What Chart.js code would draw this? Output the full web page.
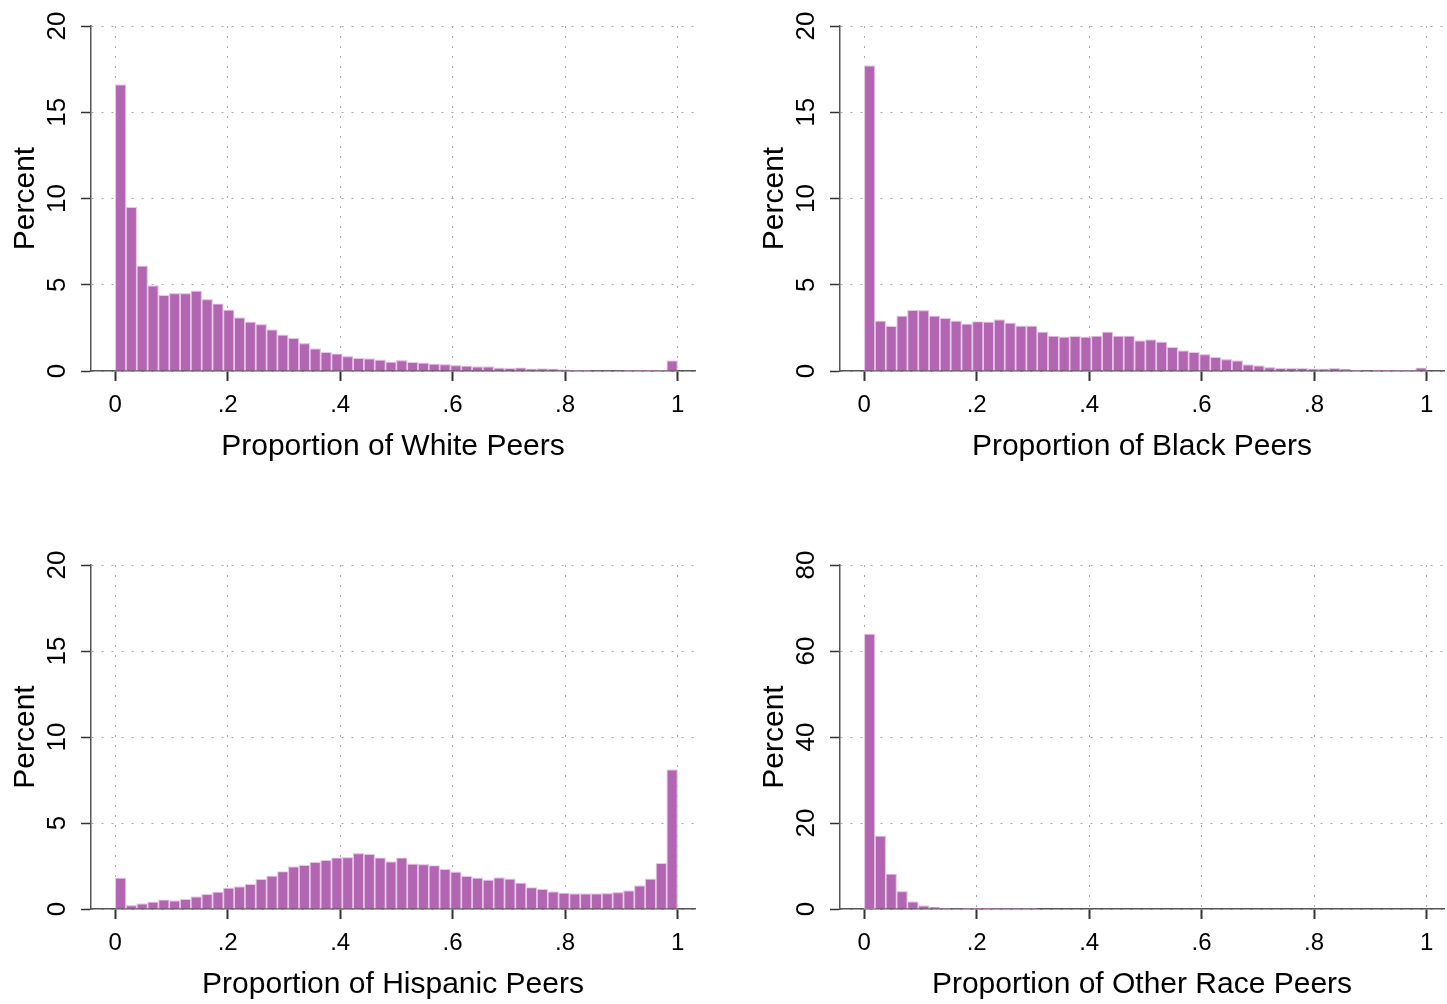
<!DOCTYPE html>
<html>
<head>
<meta charset="utf-8">
<script src="https://cdn.jsdelivr.net/npm/chart.js@4.4.0/dist/chart.umd.min.js"></script>
<style>
  html, body { margin: 0; padding: 0; background: #fff; overflow: hidden; }
  body { width: 1447px; height: 1004px; position: relative; }
  canvas { position: absolute; }
</style>
</head>
<body>
<canvas id="white" width="686" height="466" style="left:11px;top:0px"></canvas>
<canvas id="black" width="686" height="466" style="left:760px;top:0px"></canvas>
<canvas id="hispanic" width="686" height="465" style="left:11px;top:539px"></canvas>
<canvas id="other" width="686" height="465" style="left:760px;top:539px"></canvas>
<script>
// histogram: 52 equal bins from 0 to 1, heights in percent
const nBins = 52;
const xTicks = [0, 0.2, 0.4, 0.6, 0.8, 1];
const xTickLabels = ["0", ".2", ".4", ".6", ".8", "1"];
const yTicksSmall = [0, 5, 10, 15, 20];
const yTicksOther = [0, 20, 40, 60, 80];

const whitePct = [16.6, 9.5, 6.1, 4.95, 4.4, 4.5, 4.5, 4.65, 4.15, 3.9,
  3.55, 3.1, 2.85, 2.7, 2.4, 2.1, 1.9, 1.6, 1.3, 1.1,
  1.0, 0.85, 0.75, 0.72, 0.65, 0.53, 0.62, 0.52, 0.47, 0.41,
  0.39, 0.33, 0.29, 0.25, 0.25, 0.18, 0.17, 0.19, 0.12, 0.14,
  0.12, 0.07, 0.05, 0.04, 0.03, 0.03, 0.03, 0.02, 0.02, 0.02,
  0.02, 0.6];
const blackPct = [17.7, 2.9, 2.6, 3.2, 3.53, 3.51, 3.2, 3.06, 2.91, 2.73,
  2.87, 2.85, 2.98, 2.79, 2.62, 2.62, 2.27, 2.03, 1.98, 2.02,
  1.98, 2.03, 2.27, 2.03, 2.03, 1.76, 1.82, 1.69, 1.38, 1.18,
  1.1, 0.97, 0.81, 0.68, 0.6, 0.37, 0.31, 0.21, 0.16, 0.17,
  0.17, 0.12, 0.12, 0.17, 0.1, 0.05, 0.03, 0.02, 0.02, 0.02,
  0.02, 0.19];
const hispanicPct = [1.81, 0.21, 0.31, 0.41, 0.54, 0.49, 0.58, 0.72, 0.86, 0.99,
  1.23, 1.3, 1.44, 1.73, 1.93, 2.18, 2.47, 2.55, 2.72, 2.84,
  2.98, 3.0, 3.23, 3.19, 2.98, 2.76, 2.98, 2.63, 2.59, 2.53,
  2.32, 2.16, 1.91, 1.81, 1.69, 1.83, 1.75, 1.52, 1.25, 1.15,
  1.01, 0.93, 0.89, 0.89, 0.89, 0.91, 0.97, 1.07, 1.36, 1.75,
  2.67, 8.11];
const otherPct = [64.0, 17.0, 8.15, 4.1, 1.7, 0.78, 0.39, 0.23, 0.12, 0.07,
  0.05, 0.03, 0.02, 0.02, 0.01, 0.01, 0, 0, 0, 0,
  0, 0, 0, 0, 0, 0, 0, 0, 0, 0,
  0, 0, 0, 0, 0, 0, 0, 0, 0, 0,
  0, 0, 0, 0, 0, 0, 0, 0, 0, 0,
  0, 0];

const barFill = "#b266b2";
const barEdge = "#e6c8e6";
const gridColor = "#a8a8a8";
const axisColor = "#555555";
const fontFamily = "'Liberation Sans', Arial, sans-serif";

function drawHist(id, values, title, yTicks) {
  const binWidth = 1 / nBins;
  const points = values.map((v, i) => ({ x: (i + 0.5) * binWidth, y: v }));

  new Chart(document.getElementById(id), {
    type: "bar",
    data: {
      datasets: [{
        data: points,
        backgroundColor: barFill,
        borderColor: barEdge,
        borderWidth: 1.2,
        barPercentage: 1.0,
        categoryPercentage: 1.0
      }]
    },
    options: {
      responsive: false,
      animation: false,
      layout: { padding: { top: 26, right: 2, left: 0, bottom: 0 } },
      plugins: { legend: { display: false }, tooltip: { enabled: false } },
      scales: {
        x: {
          type: "linear",
          offset: false,
          min: -0.043,
          max: 1.031,
          afterBuildTicks: axis => { axis.ticks = xTicks.map(v => ({ value: v })); },
          afterFit: axis => { axis.height = 95; axis.paddingLeft = 0; axis.paddingRight = 0; },
          grid: {
            offset: false,
            color: gridColor,
            lineWidth: 1,
            tickLength: 10,
            tickColor: "#333333",
            tickWidth: 2
          },
          border: { display: true, color: axisColor, width: 1.5, dash: [2, 8] },
          ticks: {
            autoSkip: false,
            maxRotation: 0,
            padding: 10,
            color: "#000",
            font: { family: fontFamily, size: 24 },
            callback: (v, i) => xTickLabels[i]
          },
          title: {
            display: true,
            text: title,
            color: "#000",
            font: { family: fontFamily, size: 30, lineHeight: 1 },
            padding: { top: 0, bottom: 4 }
          }
        },
        y: {
          min: yTicks[0],
          max: yTicks[yTicks.length - 1],
          afterBuildTicks: axis => { axis.ticks = yTicks.map(v => ({ value: v })); },
          afterFit: axis => { axis.width = 80; axis.paddingTop = 0; axis.paddingBottom = 0; },
          grid: {
            color: gridColor,
            lineWidth: 1,
            tickLength: 10,
            tickColor: "#333333",
            tickWidth: 1.5
          },
          border: { display: true, color: axisColor, width: 1.5, dash: [2, 8] },
          ticks: {
            autoSkip: false,
            minRotation: 90,
            maxRotation: 90,
            crossAlign: "center",
            padding: 9,
            color: "#000",
            font: { family: fontFamily, size: 26 }
          },
          title: {
            display: true,
            text: "Percent",
            color: "#000",
            font: { family: fontFamily, size: 30, lineHeight: 1 },
            padding: { top: 0, bottom: 0 }
          }
        }
      }
    }
  });
}

drawHist("white", whitePct, "Proportion of White Peers", yTicksSmall);
drawHist("black", blackPct, "Proportion of Black Peers", yTicksSmall);
drawHist("hispanic", hispanicPct, "Proportion of Hispanic Peers", yTicksSmall);
drawHist("other", otherPct, "Proportion of Other Race Peers", yTicksOther);
</script>
</body>
</html>
